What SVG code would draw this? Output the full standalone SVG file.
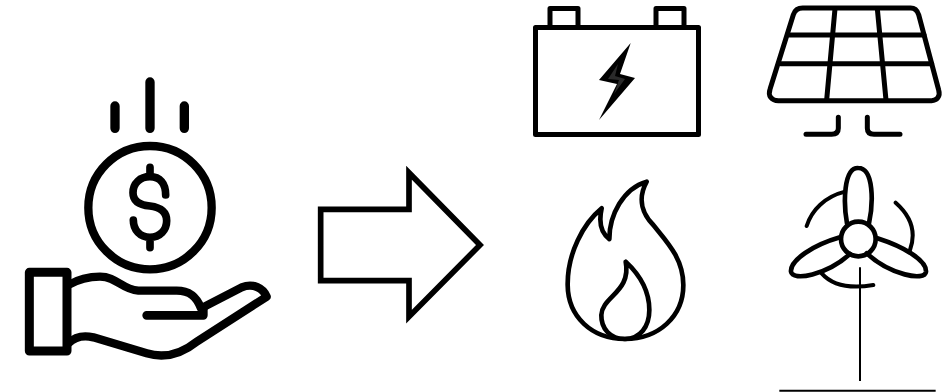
<svg xmlns="http://www.w3.org/2000/svg" width="943" height="392" viewBox="0 0 943 392">
<defs><filter id="soft" x="-5%" y="-5%" width="110%" height="110%"><feGaussianBlur stdDeviation="1.500"/></filter></defs>
<style>
.i{fill:none;stroke:#000;stroke-linecap:round;stroke-linejoin:round}
</style>
<rect width="943" height="392" fill="#fff"/>
<g id="money-hand" transform="translate(0,80) scale(.33333)" filter="url(#soft)">
<path class="i" d="M345 78V145M450 6V145M553 78V145" style="stroke-width:28"/>
<circle class="i" cx="450" cy="383" r="185" style="stroke-width:25"/>
<path class="i" style="stroke-width:23" d="M497 345C497 310 480 290 450 290C420 290 399 310 399 338C399 365 420 375 450 378C480 382 500 395 500 422C500 450 480 472 450 472C420 472 400 450 400 420M450 262V290M450 472V503"/>
<rect class="i" style="stroke-width:27" x="88" y="577" width="113" height="236"/>
<path class="i" style="stroke-width:25" d="M205 615C240 595 270 590 300 590C350 590 365 628 415 632H530C570 632 590 650 603 685L725 622C760 608 790 625 800 650L590 785C540 825 490 835 440 820L280 772C250 765 225 770 205 790"/>
<path class="i" style="stroke-width:26" d="M440 706H610V685"/>
</g>
<g id="battery">
<rect class="i" style="stroke-width:5" x="535.5" y="27.5" width="163" height="107"/>
<path class="i" style="stroke-width:5" d="M550 26V8.500H578V26M656 26V8.500H684V26"/>
<path d="M630.700 43L599 80L617 84L599 120L635 78L620 74Z" fill="#000"/>
<path d="M618 64L608 79L619 80L614 94L625 79L615 76Z" fill="#2a2a2a"/>
</g>
<g id="solar-panel" transform="translate(520,0) scale(.33333)">
<path class="i" style="stroke-width:15" d="M848 24H1172C1186 24 1192 32 1196 44L1256 270C1262 290 1250 302 1235 302H775C755 302 743 288 750 268L820 44C824 32 834 24 848 24Z"/>
<path class="i" style="stroke-width:15" d="M808 105H1212M782 191H1235M945 26L920 300M1072 26L1098 300M955 352V385Q955 403 935 403H858M1042 352V385Q1042 403 1062 403H1140"/>
</g>
<g id="flame" transform="translate(550,160) scale(.33333)">
<path class="i" style="stroke-width:14" d="M290 65C260 120 280 165 310 195C350 245 400 295 400 375C400 470 325 537 225 537C125 537 54 470 53 375C52 280 100 190 155 145C145 190 155 220 178 237C178 165 220 85 290 65Z"/>
<path class="i" style="stroke-width:14" d="M227 305C270 345 298 395 298 450C298 500 270 537 225 537C180 537 153 505 154 465C156 410 245 395 227 305Z"/>
</g>
<g id="wind-turbine" transform="translate(550,160) scale(.33333)">
<circle class="i" style="stroke-width:14" cx="925" cy="237" r="52"/>
<path class="i" style="stroke-width:14" d="M891 190C880 130 880 22 925 24C972 24 970 130 957 190M982 235C1060 260 1130 300 1128 335C1125 365 1020 345 950 280M870 232C790 255 720 300 723 335C728 365 830 345 900 282"/>
<path class="i" style="stroke-width:12" d="M885 95C825 110 785 150 770 198M1037 128C1085 170 1098 220 1080 270M815 340C850 380 910 385 970 375"/>
<path d="M930 322V663M688 692H1157" fill="none" stroke="#000" stroke-width="6"/>
</g>
<g id="connectors">
<path id="arrow" transform="translate(300,150) scale(.33333)" d="M62 178H327V68L540 285L327 500V392H62Z" fill="none" stroke="#000" stroke-width="17" stroke-linejoin="miter" stroke-miterlimit="10"/>
</g>
</svg>
